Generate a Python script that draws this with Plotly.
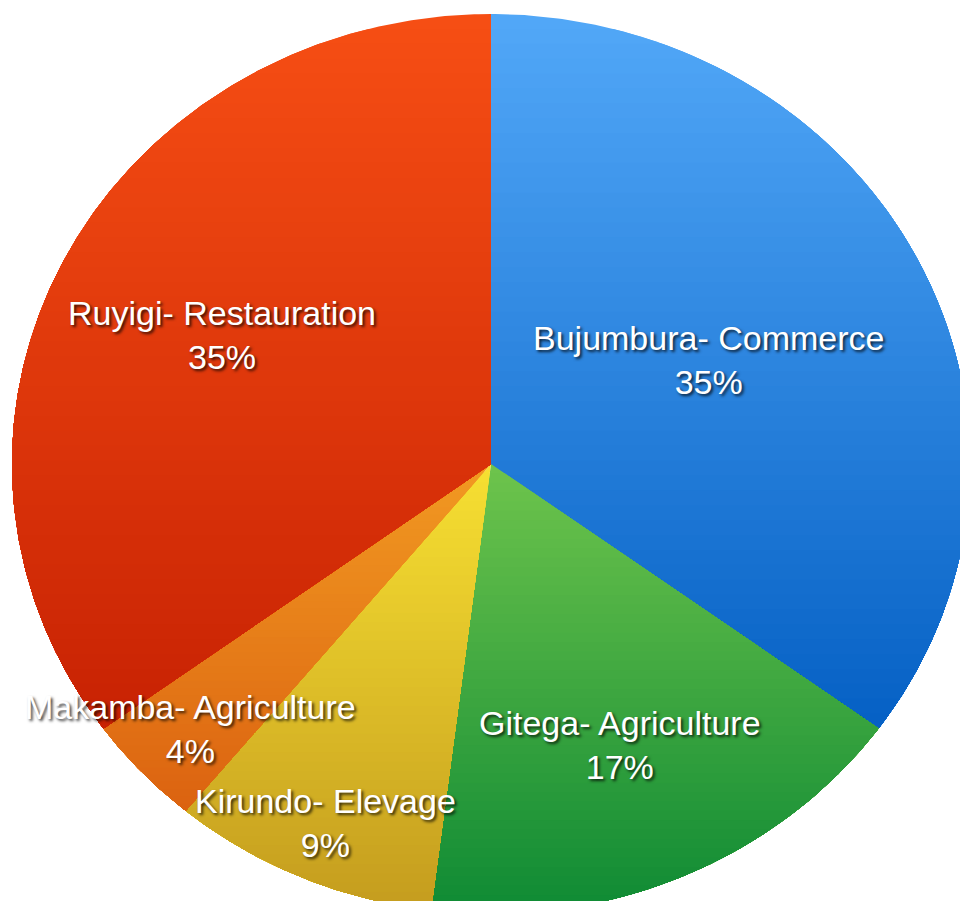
import numpy as np
import plotly.graph_objects as go

# ---- data ----
labels = ["Bujumbura- Commerce", "Gitega- Agriculture", "Kirundo- Elevage",
          "Makamba- Agriculture", "Ruyigi- Restauration"]
values = [35, 17, 9, 4, 35]

# ---- style ----
top_colors = ["#52A8F8", "#6EC44C", "#F7E032", "#F29A22", "#F64E14"]
bottom_colors = ["#0560C4", "#0E8A34", "#C49C1E", "#DB6210", "#C82203"]
label_radius = [0.51, 0.68, 0.87, 0.86, 0.63]
W, H = 960, 901
CX, CY = 491, 464          # pie centre in px
RX, RY = 479, 450          # pie radii in px (slightly elliptical)
BANDS = 48
FONT = "Liberation Sans, Arial, Helvetica, sans-serif"
FSIZE = 34
SHADOW = "2px 2px 3px rgba(0,0,0,0.75)"


def hex2rgb(h):
    h = h.lstrip("#")
    return tuple(int(h[i:i + 2], 16) for i in (0, 2, 4))


def mix(c1, c2, t):
    a, b = hex2rgb(c1), hex2rgb(c2)
    return "rgb(%d,%d,%d)" % tuple(round(a[i] + (b[i] - a[i]) * t) for i in range(3))


def clip_below(pts, c):
    out = []
    n = len(pts)
    for i in range(n):
        x1, y1 = pts[i]
        x2, y2 = pts[(i + 1) % n]
        in1, in2 = y1 <= c, y2 <= c
        if in1:
            out.append((x1, y1))
        if in1 != in2:
            t = (c - y1) / (y2 - y1)
            out.append((x1 + t * (x2 - x1), c))
    return out


total = float(sum(values))
fig = go.Figure()
annotations = []
cum = 0.0
for i, v in enumerate(values):
    a0 = 2 * np.pi * cum / total
    a1 = 2 * np.pi * (cum + v) / total
    n = max(8, int(np.degrees(a1 - a0) * 2))
    th = np.linspace(a0, a1, n)
    poly = [(0.0, 0.0)] + [(float(np.sin(t)), float(np.cos(t))) for t in th]
    ys = [p[1] for p in poly]
    ymax, ymin = max(ys), min(ys)
    for k in range(BANDS):
        c = ymax - k * (ymax - ymin) / BANDS
        part = poly if k == 0 else clip_below(poly, c)
        if len(part) < 3:
            continue
        xs = [p[0] for p in part] + [part[0][0]]
        yy = [p[1] for p in part] + [part[0][1]]
        col = mix(top_colors[i], bottom_colors[i], (k + 0.5) / BANDS)
        fig.add_trace(go.Scatter(x=xs, y=yy, mode="lines", fill="toself",
                                 fillcolor=col, line=dict(width=0, color=col),
                                 hoverinfo="skip", showlegend=False))
    # labels
    am = 2 * np.pi * (cum + v / 2) / total
    lx = label_radius[i] * np.sin(am)
    ly = label_radius[i] * np.cos(am)
    pct = "%d%%" % round(v / total * 100)
    annotations.append(dict(x=lx, y=ly, xref="x", yref="y",
                            text=labels[i] + "<br>" + pct,
                            showarrow=False, xanchor="center", yanchor="middle",
                            align="center",
                            font=dict(family=FONT, size=FSIZE, color="white",
                                      shadow=SHADOW)))
    cum += v

fig.update_layout(
    width=W, height=H,
    margin=dict(l=0, r=0, t=0, b=0),
    paper_bgcolor="white", plot_bgcolor="white",
    xaxis=dict(range=[-CX / RX, (W - CX) / RX], visible=False, fixedrange=True),
    yaxis=dict(range=[-(H - CY) / RY, CY / RY], visible=False, fixedrange=True),
    annotations=annotations,
    showlegend=False,
)
fig.write_html("out.html", config={"displayModeBar": False},
               post_script="document.body.style.margin='0';"
                           "document.body.style.overflow='hidden';")
